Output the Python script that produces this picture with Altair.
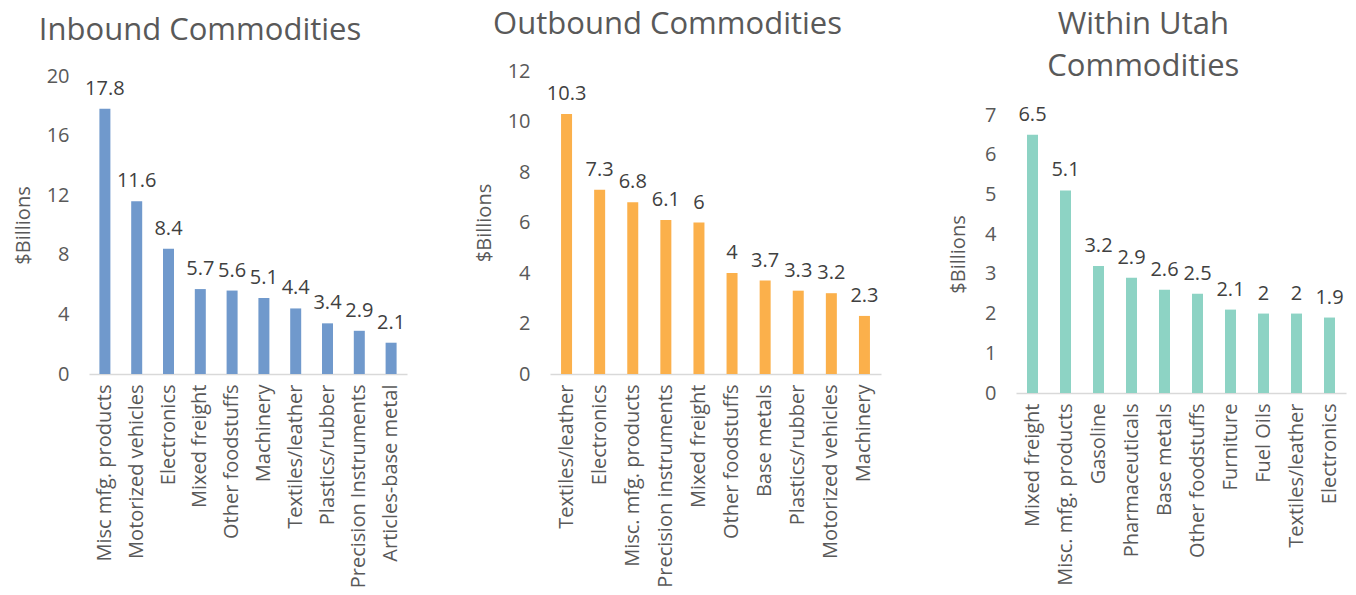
import altair as alt
import pandas as pd

FONT = "Open Sans"
GRAY = "#595959"

inbound_cats = ["Misc mfg. products", "Motorized vehicles", "Electronics", "Mixed freight",
                "Other foodstuffs", "Machinery", "Textiles/leather", "Plastics/rubber",
                "Precision Instruments", "Articles-base metal"]
inbound_vals = [17.8, 11.6, 8.4, 5.7, 5.6, 5.1, 4.4, 3.4, 2.9, 2.1]

outbound_cats = ["Textiles/leather", "Electronics", "Misc. mfg. products", "Precision instruments",
                 "Mixed freight", "Other foodstuffs", "Base metals", "Plastics/rubber",
                 "Motorized vehicles", "Machinery"]
outbound_vals = [10.3, 7.3, 6.8, 6.1, 6, 4, 3.7, 3.3, 3.2, 2.3]

within_cats = ["Mixed freight", "Misc. mfg. products", "Gasoline", "Pharmaceuticals",
               "Base metals", "Other foodstuffs", "Furniture", "Fuel Oils",
               "Textiles/leather", "Electronics"]
within_vals = [6.5, 5.1, 3.2, 2.9, 2.6, 2.5, 2.1, 2, 2, 1.9]


def panel(cats, vals, title, color, ymax, ystep, width, height, yrange,
          title_offset, title_dx, title_dy, ytitle_pad):
    df = pd.DataFrame({"cat": cats, "val": vals})
    x = alt.X("cat:N", sort=cats, title=None,
              scale=alt.Scale(paddingInner=0, paddingOuter=0),
              axis=alt.Axis(labelAngle=-90, labelFontSize=20, labelFont=FONT, labelColor=GRAY,
                            ticks=False, domainColor="#D9D9D9", domainWidth=1.5,
                            labelPadding=10, labelLimit=400))
    y = alt.Y("val:Q", title="$Billions",
              scale=alt.Scale(domain=[0, ymax], nice=False, range=yrange),
              axis=alt.Axis(values=list(range(0, ymax + 1, ystep)), grid=False, domain=False,
                            ticks=False, labelFontSize=20, labelFont=FONT, labelColor=GRAY,
                            labelOverlap=False, labelPadding=20, titleFontSize=20, titleFont=FONT,
                            titleColor=GRAY, titleFontWeight="normal", titlePadding=ytitle_pad))
    base = alt.Chart(df)
    bars = base.mark_bar(color=color, size=11).encode(x=x, y=y)
    text = base.mark_text(baseline="bottom", dy=-10, fontSize=20, font=FONT, color="#404040").encode(
        x=alt.X("cat:N", sort=cats), y="val:Q", text=alt.Text("val:Q"))
    return (bars + text).properties(
        width=width, height=height,
        title=alt.TitleParams(title, fontSize=31, font=FONT, color=GRAY, fontWeight="normal",
                              anchor="middle", frame="bounds", offset=title_offset, dx=title_dx,
                              dy=title_dy, lineHeight=42))


p1 = panel(inbound_cats, inbound_vals, "Inbound Commodities", "#7099CC", 20, 2, 318, 303,
           [303, 5], 19, -10, 0, 13)
p2 = panel(outbound_cats, outbound_vals, "Outbound Commodities", "#FBB04B", 12, 2, 331, 303,
           [303, 0], 20, -10, 0, 13)
p3 = panel(within_cats, within_vals, ["Within Utah", "Commodities"], "#8DD3C4", 7, 1, 330, 322,
           [322, 44], -23, -4, -11, 16)

chart = alt.hconcat(p1, p2, p3, spacing=67).properties(
    padding={"left": 13, "top": 9, "right": 5, "bottom": 0},
    background="white"
).configure_view(strokeWidth=0)

chart.save("out.html", embed_options={"renderer": "svg", "actions": False})
